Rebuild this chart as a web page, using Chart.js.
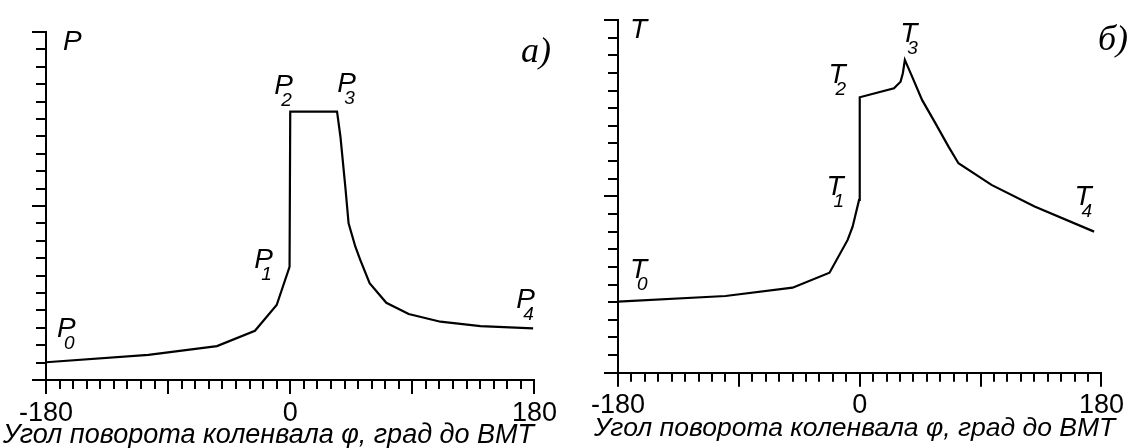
<!DOCTYPE html>
<html>
<head>
<meta charset="utf-8">
<script src="https://cdn.jsdelivr.net/npm/chart.js@4"></script>
<style>
  html, body { margin: 0; padding: 0; background: #fff; }
  #wrap { position: relative; width: 1133px; height: 448px; }
  .box { position: absolute; top: 0; height: 448px; }
  #boxP { left: 0; width: 566px; }
  #boxT { left: 566px; width: 567px; }
</style>
</head>
<body>
<div id="wrap">
  <div class="box" id="boxP"><canvas id="chartP"></canvas></div>
  <div class="box" id="boxT"><canvas id="chartT"></canvas></div>
</div>
<script>
// угол поворота коленвала, град до ВМТ
const angleP = [-180, -104.5, -54, -26, -10, -0.5, 0, 34.5, 37, 40.6, 43, 48, 51.6, 58.5, 70.8, 87.3, 110.7, 140.2, 179];
const pressure = [1.02, 1.44, 1.95, 2.83, 4.31, 6.5, 15.42, 15.42, 13.98, 11.1, 9.0, 7.66, 6.9, 5.56, 4.44, 3.79, 3.35, 3.1, 2.97];

const angleT = [-180, -100, -50, -22.5, -9, -5.3, -0.5, 0, 25.5, 30.4, 32.1, 33.6, 39, 46.4, 56.3, 66.1, 73.5, 98.1, 130.2, 174.5];
const temperature = [4.03, 4.35, 4.82, 5.67, 7.53, 8.28, 9.8, 15.62, 16.13, 16.5, 16.98, 17.74, 16.79, 15.47, 14.15, 12.82, 11.88, 10.65, 9.42, 8.0];

const tickLabels = [-180, 0, 180];
const namesP = ['P', 'P0', 'P1', 'P2', 'P3', 'P4'];
const namesT = ['T', 'T0', 'T1', 'T2', 'T3', 'T4'];
const axisTitle = 'Угол поворота коленвала φ, град до ВМТ';

// tick marks outside the axes, longer ones every 90° and every 10 units
const axisTicks = {
  id: 'axisTicks',
  afterDraw(chart) {
    const { ctx, scales: { x, y } } = chart;
    ctx.save();
    ctx.strokeStyle = '#000';
    ctx.lineWidth = 2;
    ctx.beginPath();
    x.ticks.forEach(t => {
      const px = Math.round(x.getPixelForValue(t.value));
      const len = t.value % 90 === 0 ? 14 : 9;
      ctx.moveTo(px, y.bottom);
      ctx.lineTo(px, y.bottom + len);
    });
    y.ticks.forEach(t => {
      const py = Math.round(y.getPixelForValue(t.value));
      const len = t.value % 10 === 0 ? 14 : 10;
      ctx.moveTo(x.left, py);
      ctx.lineTo(x.left - len, py);
    });
    ctx.stroke();
    ctx.restore();
  }
};

// point names with subscripts, panel tag and axis title
const sketchText = {
  id: 'sketchText',
  afterDraw(chart, args, opts) {
    const { ctx, scales: { x, y } } = chart;
    ctx.save();
    ctx.fillStyle = '#000';
    ctx.textBaseline = 'alphabetic';
    ctx.textAlign = 'left';
    opts.names.forEach((n, i) => {
      const [vx, vy] = opts.anchors[i];
      const px = x.getPixelForValue(vx);
      const py = y.getPixelForValue(vy);
      ctx.font = 'italic 28px "Liberation Sans"';
      ctx.fillText(n[0], px, py);
      if (n.length > 1) {
        ctx.font = 'italic 19px "Liberation Sans"';
        ctx.fillText(n.slice(1), px + 7, py + 12);
      }
    });
    ctx.font = 'italic 36px "Liberation Serif"';
    ctx.fillText(opts.tag, opts.tagPos[0], opts.tagPos[1]);
    ctx.font = 'italic ' + opts.titleSize + 'px "Liberation Sans"';
    ctx.fillText(axisTitle, opts.titlePos[0], opts.titlePos[1]);
    ctx.restore();
  }
};

function makeChart(id, xs, ys, o) {
  return new Chart(document.getElementById(id), {
    type: 'line',
    data: {
      datasets: [{
        data: xs.map((v, i) => ({ x: v, y: ys[i] })),
        borderColor: '#000',
        borderWidth: 2.2,
        pointRadius: 0,
        tension: 0,
        fill: false,
      }]
    },
    options: {
      responsive: true,
      maintainAspectRatio: false,
      animation: false,
      events: [],
      layout: { padding: { left: 0, right: o.right, top: o.top, bottom: 0 } },
      scales: {
        x: {
          type: 'linear',
          min: -180,
          max: 180,
          afterFit: s => { s.height = o.bottom; },
          grid: { display: false },
          border: { display: true, color: '#000', width: 2 },
          ticks: {
            stepSize: 10,
            autoSkip: false,
            maxRotation: 0,
            padding: 9,
            color: '#000',
            font: { family: '"Liberation Sans"', size: 27 },
            callback: v => tickLabels.includes(v) ? String(v) : '',
          },
        },
        y: {
          min: 0,
          max: 20,
          afterFit: s => { s.width = o.left; },
          grid: { display: false },
          border: { display: true, color: '#000', width: 2 },
          ticks: { stepSize: 1, display: false },
        },
      },
      plugins: {
        legend: { display: false },
        tooltip: { enabled: false },
        sketchText: o.text,
      },
    },
    plugins: [axisTicks, sketchText],
  });
}

makeChart('chartP', angleP, pressure, {
  left: 46, right: 31.5, top: 32, bottom: 68,
  text: {
    names: namesP,
    anchors: [[-167.5, 18.97], [-171.9, 2.47], [-26.5, 6.44], [-11.8, 16.44], [34.7, 16.55], [166.6, 4.14]],
    tag: 'а)', tagPos: [521, 62],
    titlePos: [3, 443], titleSize: 27,
  },
});

makeChart('chartT', angleT, temperature, {
  left: 52, right: 27.5, top: 20, bottom: 75.3,
  text: {
    names: namesT,
    anchors: [[-171, 18.98], [-171, 5.37], [-24.7, 10.08], [-23.3, 16.43], [30.1, 18.76], [159.9, 9.51]],
    tag: 'б)', tagPos: [532, 50],
    titlePos: [28, 436], titleSize: 26.5,
  },
});
</script>
</body>
</html>
